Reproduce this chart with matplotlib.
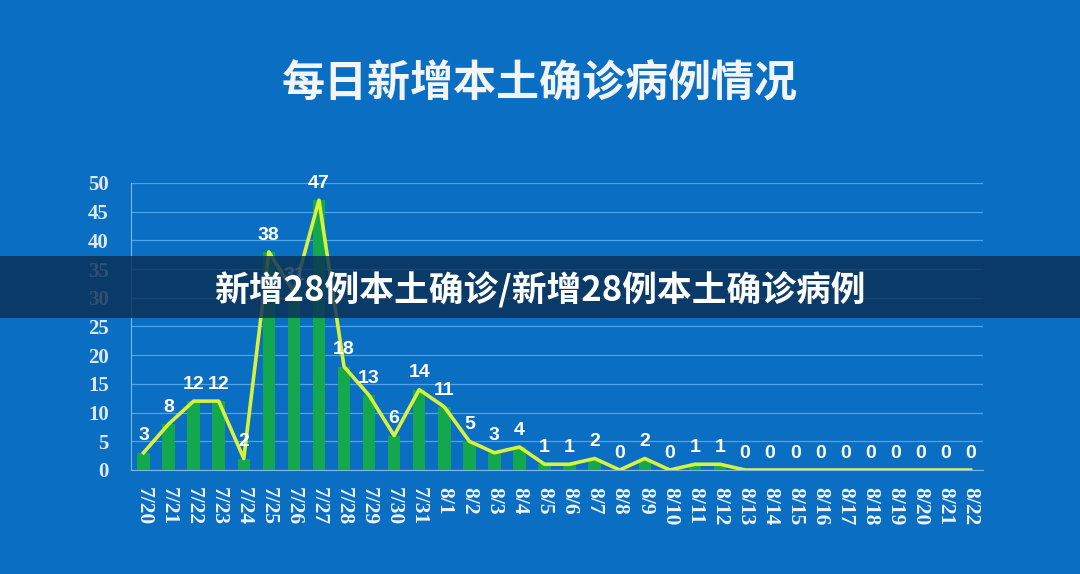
import matplotlib
matplotlib.use('Agg')
import matplotlib.pyplot as plt
from matplotlib.patches import Rectangle

dates = ['7/20', '7/21', '7/22', '7/23', '7/24', '7/25', '7/26', '7/27', '7/28', '7/29',
         '7/30', '7/31', '8/1', '8/2', '8/3', '8/4', '8/5', '8/6', '8/7', '8/8',
         '8/9', '8/10', '8/11', '8/12', '8/13', '8/14', '8/15', '8/16', '8/17', '8/18',
         '8/19', '8/20', '8/21', '8/22']
cases = [3, 8, 12, 12, 2, 38, 31, 47, 18, 13,
         6, 14, 11, 5, 3, 4, 1, 1, 2, 0,
         2, 0, 1, 1, 0, 0, 0, 0, 0, 0,
         0, 0, 0, 0]
yticks = [0, 5, 10, 15, 20, 25, 30, 35, 40, 45, 50]

title = '每日新增本土确诊病例情况'
banner = '新增28例本土确诊/新增28例本土确诊病例'

bg = '#0a6ec2'
fig = plt.figure(figsize=(10.8, 5.74), dpi=100)
fig.patch.set_facecolor(bg)
ax = fig.add_axes([0.1213, 0.1812, 0.789, 0.5])
ax.set_facecolor(bg)

x = list(range(len(dates)))
ax.bar(x, cases, width=0.5, color='#14a84e', zorder=2)
ax.plot(x, cases, color='#d8f23c', lw=2.6, zorder=3)
for xi, v in zip(x, cases):
    ax.annotate(str(v), (xi, v), xytext=(0, 6), textcoords='offset points',
                ha='center', va='bottom', color='white', fontsize=14,
                fontweight='bold', family='Liberation Sans', zorder=4)

ax.set_xlim(-0.5, len(dates) - 0.5)
ax.set_ylim(0, 50)
ax.set_yticks(yticks)
ax.set_xticks(x)
ax.set_xticklabels(dates, rotation=270, family='Liberation Serif', fontweight='bold',
                   fontsize=15.5, color='#eef3f8')
ax.set_yticklabels([str(t) for t in yticks], family='Liberation Serif', fontweight='bold',
                   fontsize=15, color='#dfe8f0')
ax.tick_params(axis='y', length=0, pad=16)
ax.tick_params(axis='x', length=0, pad=12)
ax.grid(axis='y', color='#4fa3ea', lw=0.9, zorder=1)
for s in ['top', 'right']:
    ax.spines[s].set_visible(False)
ax.spines['left'].set_color('#7cb8ea')
ax.spines['bottom'].set_color('#7cb8ea')

fig.text(0.5, 0.855, title, ha='center', va='center', color='#f2f4f6', fontsize=31,
         fontweight='heavy', family=['Noto Sans CJK SC', 'DejaVu Sans'])

fig.patches.append(Rectangle((0, 0.446), 1, 0.108, transform=fig.transFigure,
                             facecolor='#0b2f55', alpha=0.82, zorder=10))
fig.text(0.5, 0.495, banner, ha='center', va='center', color='white', fontsize=25,
         fontweight='heavy', family=['Noto Sans CJK SC', 'DejaVu Sans'], zorder=11)

fig.savefig('out.png', dpi=100, facecolor=bg)
